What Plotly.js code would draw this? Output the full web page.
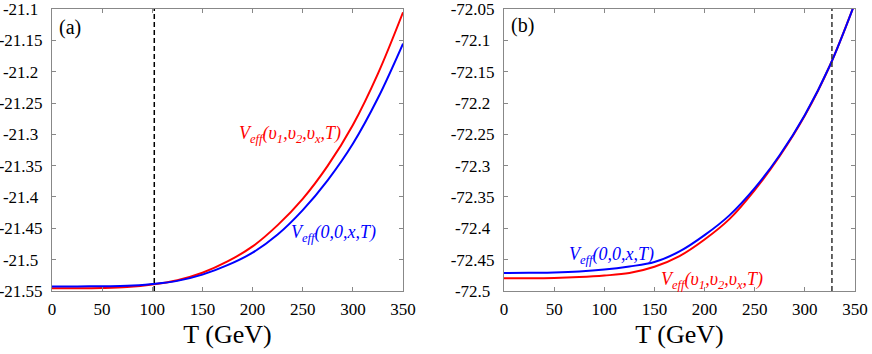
<!DOCTYPE html>
<html>
<head>
<meta charset="utf-8">
<script src="https://cdn.plot.ly/plotly-3.0.1.min.js"></script>
<style>
html,body{margin:0;padding:0;background:#fff;}
#chart{position:relative;z-index:1;width:872px;height:354px;}
.fontwarm{position:absolute;left:4px;top:326px;z-index:0;color:#fff;font-family:'Liberation Serif',serif;font-size:18px;white-space:nowrap;}
</style>
</head>
<body>
<div class="fontwarm">-0123456789 <i>V υ</i></div>
<div id="chart"></div>
<script>
// Temperature grid (GeV)
const T = [0, 25, 50, 75, 100, 125, 150, 175, 200, 225, 250, 275, 300, 325, 350];

// Panel (a)
const aRed  = [-21.546, -21.546, -21.5455, -21.544, -21.540, -21.533, -21.521, -21.503, -21.479, -21.445, -21.403, -21.350, -21.285, -21.203, -21.105];
const aBlue = [-21.543, -21.543, -21.5425, -21.542, -21.539, -21.534, -21.524, -21.509, -21.489, -21.460, -21.421, -21.373, -21.315, -21.242, -21.155];
const aTc = 102;

// Panel (b)
const bRed  = [-72.480, -72.480, -72.4795, -72.478, -72.4755, -72.4715, -72.4615, -72.4445, -72.418, -72.385, -72.339, -72.2845, -72.220, -72.140, -72.040];
const bBlue = [-72.4715, -72.471, -72.4705, -72.469, -72.466, -72.461, -72.454, -72.437, -72.411, -72.379, -72.336, -72.283, -72.219, -72.140, -72.040];
const bTc = 327;

// Tick labels (shorter labels padded so that all labels sit centred, as in the reference)
const xTicks = [0, 50, 100, 150, 200, 250, 300, 350];
const aYTicks = [-21.55, -21.5, -21.45, -21.4, -21.35, -21.3, -21.25, -21.2, -21.15, -21.1];
const aYText  = ["-21.55", "-21.5\u2005", "-21.45", "-21.4\u2005", "-21.35", "-21.3\u2005", "-21.25", "-21.2\u2005", "-21.15", "-21.1\u2005"];
const bYTicks = [-72.5, -72.45, -72.4, -72.35, -72.3, -72.25, -72.2, -72.15, -72.1, -72.05];
const bYText  = ["-72.5\u2005", "-72.45", "-72.4\u2005", "-72.35", "-72.3\u2005", "-72.25", "-72.2\u2005", "-72.15", "-72.1\u2005", "-72.05"];

const labelFull = "<i>V<sub>eff</sub>(υ<sub>1</sub>,υ<sub>2</sub>,υ<sub>x</sub>,T)</i>";
const labelZero = "<i>V<sub>eff</sub>(0,0,x,T)</i>";

const FONT = "'Liberation Serif', serif";
const RED = "#ff0000", BLUE = "#0000ff";

const traces = [
  {x: T, y: aRed,  xaxis: "x",  yaxis: "y",  mode: "lines", line: {color: RED,  width: 2, shape: "spline"}},
  {x: T, y: aBlue, xaxis: "x",  yaxis: "y",  mode: "lines", line: {color: BLUE, width: 2, shape: "spline"}},
  {x: T, y: bRed,  xaxis: "x2", yaxis: "y2", mode: "lines", line: {color: RED,  width: 2, shape: "spline"}},
  {x: T, y: bBlue, xaxis: "x2", yaxis: "y2", mode: "lines", line: {color: BLUE, width: 2, shape: "spline"}}
];

function xAxis(domain, anchor) {
  return {
    domain: domain, anchor: anchor, range: [0, 350],
    tickmode: "array", tickvals: xTicks,
    ticks: "inside", ticklen: 4, tickcolor: "#888", tickwidth: 1,
    mirror: "ticks", showline: true, linecolor: "#888", linewidth: 1,
    showgrid: false, zeroline: false,
    tickfont: {family: FONT, size: 17},
    ticklabelstandoff: 3,
    title: {text: "T (GeV)", font: {family: FONT, size: 26}, standoff: 6}
  };
}
function yAxis(range, vals, text, anchor) {
  return {
    domain: [0, 1], anchor: anchor, range: range,
    tickmode: "array", tickvals: vals, ticktext: text,
    ticks: "inside", ticklen: 4, tickcolor: "#888", tickwidth: 1,
    mirror: "ticks", showline: true, linecolor: "#888", linewidth: 1,
    showgrid: false, zeroline: false,
    tickfont: {family: FONT, size: 17},
    ticklabeloverflow: "allow",
    ticklabelstandoff: 5
  };
}

const layout = {
  width: 872, height: 354,
  margin: {l: 0, r: 0, t: 9, b: 63},
  showlegend: false,
  paper_bgcolor: "rgba(255,255,255,1)",
  font: {family: FONT, size: 17, color: "#000000"},
  xaxis:  xAxis([0.0596, 0.4622], "y"),
  yaxis:  yAxis([-21.5502, -21.0998], aYTicks, aYText, "x"),
  xaxis2: xAxis([0.578, 0.9805], "y2"),
  yaxis2: yAxis([-72.5002, -72.0498], bYTicks, bYText, "x2"),
  shapes: [
    {type: "line", xref: "x",  yref: "y domain",  x0: aTc, x1: aTc, y0: 0, y1: 1, line: {color: "#000", width: 1.5, dash: "5px,3px"}},
    {type: "line", xref: "x2", yref: "y2 domain", x0: bTc, x1: bTc, y0: 0, y1: 1, line: {color: "#333", width: 1.5, dash: "5px,3px"}}
  ],
  annotations: [
    {xref: "x domain", yref: "y domain", x: 0.014, y: 0.936, xanchor: "left", yanchor: "middle", showarrow: false, text: "(a)", font: {family: FONT, size: 20}},
    {xref: "x2 domain", yref: "y2 domain", x: 0.014, y: 0.943, xanchor: "left", yanchor: "middle", showarrow: false, text: "(b)", font: {family: FONT, size: 20}},
    {xref: "x", yref: "y", x: 184, y: -21.30, xanchor: "left", yanchor: "middle", showarrow: false, text: labelFull, font: {family: FONT, size: 18, color: RED}},
    {xref: "x", yref: "y", x: 236, y: -21.458, xanchor: "left", yanchor: "middle", showarrow: false, text: labelZero, font: {family: FONT, size: 18, color: BLUE}},
    {xref: "x2", yref: "y2", x: 63, y: -72.4435, xanchor: "left", yanchor: "middle", showarrow: false, text: labelZero, font: {family: FONT, size: 18, color: BLUE}},
    {xref: "x2", yref: "y2", x: 155, y: -72.4835, xanchor: "left", yanchor: "middle", showarrow: false, text: labelFull, font: {family: FONT, size: 18, color: RED}}
  ]
};

document.body.offsetWidth;
Plotly.newPlot("chart", traces, layout, {staticPlot: true, displayModeBar: false});
</script>
</body>
</html>
